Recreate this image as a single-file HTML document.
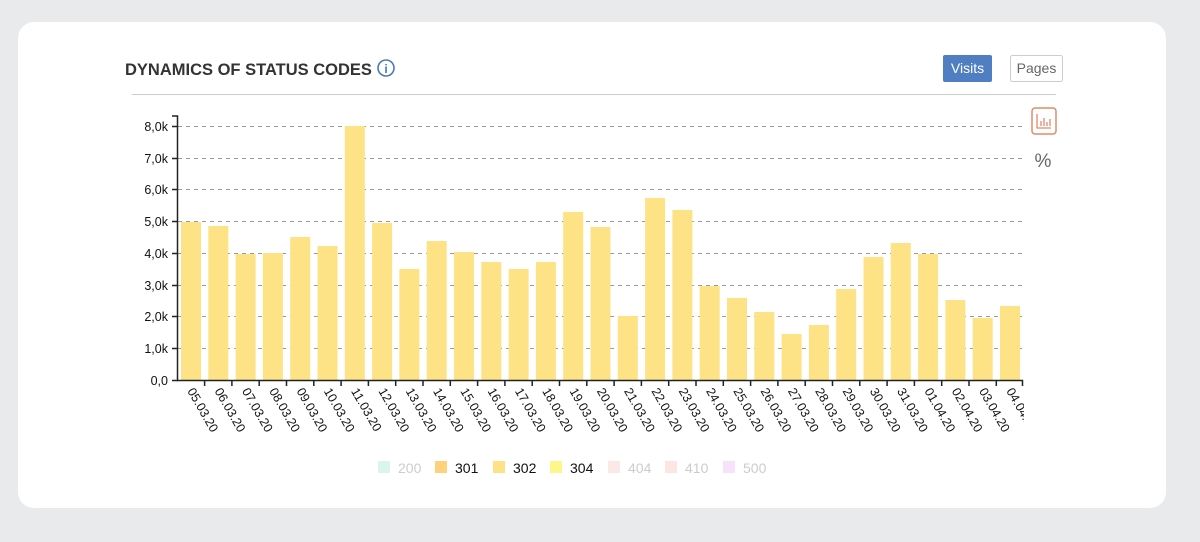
<!DOCTYPE html>
<html><head><meta charset="utf-8"><style>
body{margin:0;width:1200px;height:542px;background:#e9eaec;font-family:"Liberation Sans",Arial,sans-serif;overflow:hidden}
.card{position:absolute;left:18px;top:22px;width:1148px;height:486px;background:#fff;border-radius:16px}
</style></head><body>
<div class="card"></div>
<svg width="1200" height="542" style="position:absolute;left:0;top:0" font-family="Liberation Sans, Arial, sans-serif">
<text x="125" y="75" font-size="16.5" font-weight="bold" fill="#333">DYNAMICS OF STATUS CODES</text>
<circle cx="386" cy="68" r="8" fill="none" stroke="#4a78b8" stroke-width="1.6"/>
<text x="386" y="73" font-size="12" font-weight="bold" fill="#4a78b8" text-anchor="middle">i</text>
<rect x="943" y="55" width="49" height="27" rx="2" fill="#4f7fc2"/>
<text x="967.5" y="73" font-size="14" fill="#fff" text-anchor="middle">Visits</text>
<rect x="1010.5" y="55.5" width="52" height="26" rx="2" fill="#fff" stroke="#ccc"/>
<text x="1036.5" y="73" font-size="14" fill="#666" text-anchor="middle">Pages</text>
<line x1="132" y1="94.5" x2="1056" y2="94.5" stroke="#ccc"/>
<rect x="1032" y="108" width="24" height="26" rx="3" fill="none" stroke="#e08a6a" stroke-width="1.5"/>
<path d="M1037 114v14h14M1041 126v-5M1044 126v-8M1047 126v-4M1050 126v-7" stroke="#e08a6a" stroke-width="1.3" fill="none"/>
<text x="1043" y="167" font-size="19" fill="#666" text-anchor="middle">%</text>
<g stroke="#999" stroke-dasharray="4,4">
<line x1="178" y1="126.5" x2="1022" y2="126.5"/><line x1="178" y1="158.5" x2="1022" y2="158.5"/>
<line x1="178" y1="189.5" x2="1022" y2="189.5"/><line x1="178" y1="221.5" x2="1022" y2="221.5"/>
<line x1="178" y1="253.5" x2="1022" y2="253.5"/><line x1="178" y1="285.5" x2="1022" y2="285.5"/>
<line x1="178" y1="316.5" x2="1022" y2="316.5"/><line x1="178" y1="348.5" x2="1022" y2="348.5"/>
</g>
<g fill="#fde385">
<rect x="181" y="222" width="20" height="158"/><rect x="208.3" y="226" width="20" height="154"/>
<rect x="235.6" y="254" width="20" height="126"/><rect x="262.9" y="253" width="20" height="127"/>
<rect x="290.2" y="237" width="20" height="143"/><rect x="317.5" y="246" width="20" height="134"/>
<rect x="344.8" y="126" width="20" height="254"/><rect x="372.1" y="223" width="20" height="157"/>
<rect x="399.4" y="269" width="20" height="111"/><rect x="426.7" y="241" width="20" height="139"/>
<rect x="454" y="252" width="20" height="128"/><rect x="481.3" y="262" width="20" height="118"/>
<rect x="508.6" y="269" width="20" height="111"/><rect x="535.9" y="262" width="20" height="118"/>
<rect x="563.2" y="212" width="20" height="168"/><rect x="590.5" y="227" width="20" height="153"/>
<rect x="617.8" y="316" width="20" height="64"/><rect x="645.1" y="198" width="20" height="182"/>
<rect x="672.4" y="210" width="20" height="170"/><rect x="699.7" y="286" width="20" height="94"/>
<rect x="727" y="298" width="20" height="82"/><rect x="754.3" y="312" width="20" height="68"/>
<rect x="781.6" y="334" width="20" height="46"/><rect x="808.9" y="325" width="20" height="55"/>
<rect x="836.2" y="289" width="20" height="91"/><rect x="863.5" y="257" width="20" height="123"/>
<rect x="890.8" y="243" width="20" height="137"/><rect x="918.1" y="254" width="20" height="126"/>
<rect x="945.4" y="300" width="20" height="80"/><rect x="972.7" y="318" width="20" height="62"/>
<rect x="1000" y="306" width="20" height="74"/>
</g>
<g stroke="#222" stroke-width="1.5" fill="none">
<path d="M172 116H177.5V380.5H1022.5V386"/>
<path d="M172 126.5h6M172 158.5h6M172 189.5h6M172 221.5h6M172 253.5h6M172 285.5h6M172 316.5h6M172 348.5h6M172 380.5h6"/>
<path d="M204.6 380v6M231.9 380v6M259.2 380v6M286.5 380v6M313.8 380v6M341.1 380v6M368.4 380v6M395.7 380v6M423 380v6M450.3 380v6M477.6 380v6M504.9 380v6M532.2 380v6M559.5 380v6M586.8 380v6M614.1 380v6M641.4 380v6M668.7 380v6M696 380v6M723.3 380v6M750.6 380v6M777.9 380v6M805.2 380v6M832.5 380v6M859.8 380v6M887.1 380v6M914.4 380v6M941.7 380v6M969 380v6M996.3 380v6"/>
</g>
<g font-size="12.5" fill="#111" text-anchor="end">
<text x="168" y="131">8,0k</text><text x="168" y="163">7,0k</text><text x="168" y="194">6,0k</text>
<text x="168" y="226">5,0k</text><text x="168" y="258">4,0k</text><text x="168" y="290">3,0k</text>
<text x="168" y="321">2,0k</text><text x="168" y="353">1,0k</text><text x="168" y="385">0,0</text>
</g>
<defs><clipPath id="c"><rect x="0" y="380" width="1024" height="80"/></clipPath></defs>
<g font-size="12.5" fill="#111" clip-path="url(#c)">
<text transform="translate(187,391) rotate(60)">05.03.20</text>
<text transform="translate(214.3,391) rotate(60)">06.03.20</text>
<text transform="translate(241.6,391) rotate(60)">07.03.20</text>
<text transform="translate(268.9,391) rotate(60)">08.03.20</text>
<text transform="translate(296.2,391) rotate(60)">09.03.20</text>
<text transform="translate(323.5,391) rotate(60)">10.03.20</text>
<text transform="translate(350.8,391) rotate(60)">11.03.20</text>
<text transform="translate(378.1,391) rotate(60)">12.03.20</text>
<text transform="translate(405.4,391) rotate(60)">13.03.20</text>
<text transform="translate(432.7,391) rotate(60)">14.03.20</text>
<text transform="translate(460,391) rotate(60)">15.03.20</text>
<text transform="translate(487.3,391) rotate(60)">16.03.20</text>
<text transform="translate(514.6,391) rotate(60)">17.03.20</text>
<text transform="translate(541.9,391) rotate(60)">18.03.20</text>
<text transform="translate(569.2,391) rotate(60)">19.03.20</text>
<text transform="translate(596.5,391) rotate(60)">20.03.20</text>
<text transform="translate(623.8,391) rotate(60)">21.03.20</text>
<text transform="translate(651.1,391) rotate(60)">22.03.20</text>
<text transform="translate(678.4,391) rotate(60)">23.03.20</text>
<text transform="translate(705.7,391) rotate(60)">24.03.20</text>
<text transform="translate(733,391) rotate(60)">25.03.20</text>
<text transform="translate(760.3,391) rotate(60)">26.03.20</text>
<text transform="translate(787.6,391) rotate(60)">27.03.20</text>
<text transform="translate(814.9,391) rotate(60)">28.03.20</text>
<text transform="translate(842.2,391) rotate(60)">29.03.20</text>
<text transform="translate(869.5,391) rotate(60)">30.03.20</text>
<text transform="translate(896.8,391) rotate(60)">31.03.20</text>
<text transform="translate(924.1,391) rotate(60)">01.04.20</text>
<text transform="translate(951.4,391) rotate(60)">02.04.20</text>
<text transform="translate(978.7,391) rotate(60)">03.04.20</text>
<text transform="translate(1006,391) rotate(60)">04.04.20</text>
</g>
<g font-size="14">
<rect x="378" y="461" width="12" height="12" fill="#dcf5ec"/><text x="398" y="473" fill="#ccc">200</text>
<rect x="435" y="461" width="12" height="12" fill="#fdd27a"/><text x="455" y="473" fill="#111">301</text>
<rect x="493" y="461" width="12" height="12" fill="#fde385"/><text x="513" y="473" fill="#111">302</text>
<rect x="550" y="461" width="12" height="12" fill="#fdf68a"/><text x="570" y="473" fill="#111">304</text>
<rect x="608" y="461" width="12" height="12" fill="#fde8e8"/><text x="628" y="473" fill="#ccc">404</text>
<rect x="665" y="461" width="12" height="12" fill="#fde5e2"/><text x="685" y="473" fill="#ccc">410</text>
<rect x="723" y="461" width="12" height="12" fill="#f7e2fb"/><text x="743" y="473" fill="#ccc">500</text>
</g>
</svg>
</body></html>
